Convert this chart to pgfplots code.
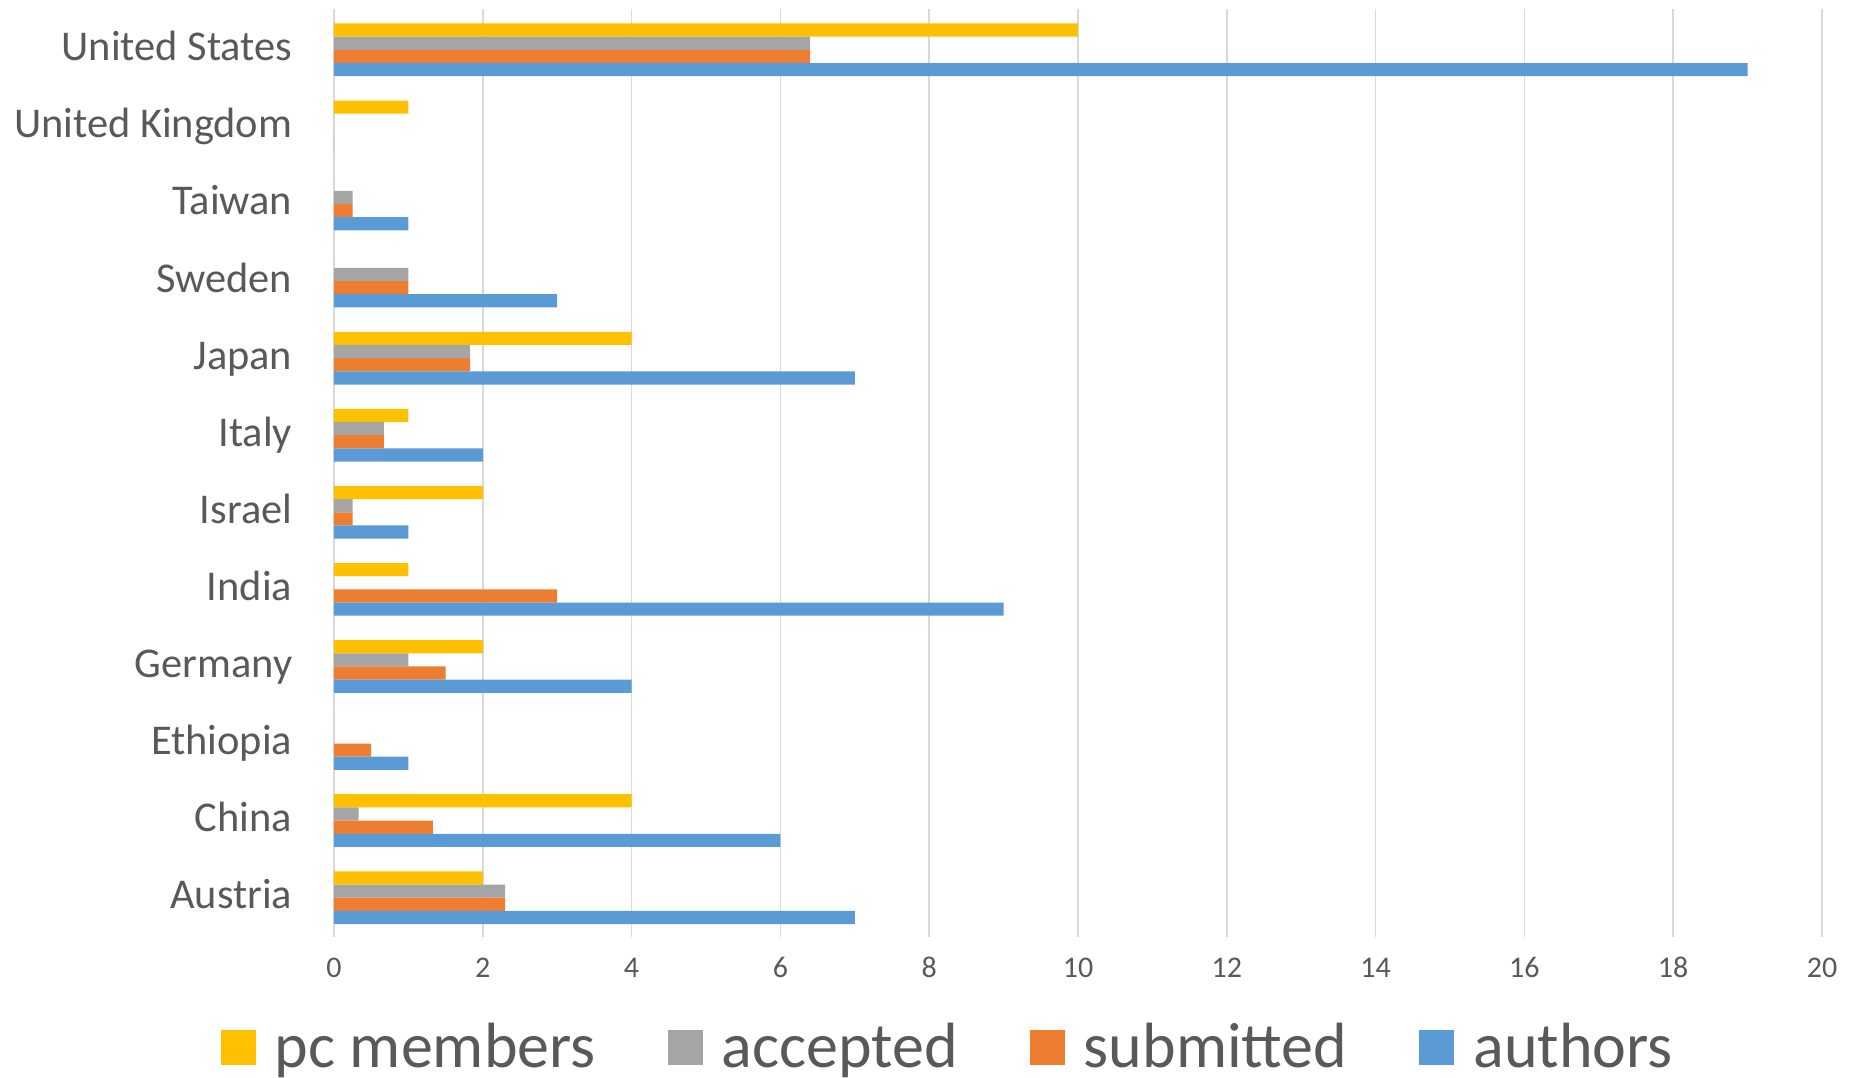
\documentclass[border=0pt]{standalone}
\usepackage{fontspec}
\setmainfont{Carlito}
\usepackage{pgfplots}
\usepackage{pgfplotstable}
\pgfplotsset{compat=1.18}

\definecolor{pcc}{HTML}{FFC000}
\definecolor{accc}{HTML}{A5A5A5}
\definecolor{subc}{HTML}{ED7D31}
\definecolor{autc}{HTML}{5B9BD5}
\definecolor{gridc}{HTML}{D9D9D9}
\definecolor{txtc}{HTML}{595959}

% y: 0 = Austria ... 11 = United States
\pgfplotstableread{
y  pc accepted submitted authors
0  2  2.3      2.3       7
1  4  0.33     1.33      6
2  0  0        0.5       1
3  2  1        1.5       4
4  1  0        3         9
5  2  0.25     0.25      1
6  1  0.67     0.67      2
7  4  1.83     1.83      7
8  0  1        1         3
9  0  0.25     0.25      1
10 1  0        0         0
11 10 6.4      6.4       19
}\data

\begin{document}
\begin{tikzpicture}
\begin{axis}[
  name=ax,
  xbar,
  scale only axis,
  width=372pt, height=232pt,
  xmin=0, xmax=20,
  ymin=-0.51, ymax=11.53,
  xtick={0,2,...,20},
  ytick={0,...,11},
  yticklabels={Austria,China,Ethiopia,Germany,India,Israel,Italy,Japan,Sweden,Taiwan,United Kingdom,United States},
  xmajorgrids,
  grid style={draw=gridc, line width=0.36pt},
  axis lines*=left,
  x axis line style={draw=none},
  y axis line style={draw=gridc, line width=0.5pt},
  major tick length=0pt,
  tick style={draw=none},
  bar width=0.171,
  /pgf/number format/assume math mode=true,
  xticklabel style={font=\fontsize{7.5}{9}\selectfont, text=txtc, anchor=base, inner sep=0pt, yshift=-10.25pt},
  yticklabel style={font=\fontsize{10.6}{12}\selectfont, text=txtc, anchor=base east, inner sep=0pt, xshift=-10.25pt, yshift=-2.75pt},
  legend columns=-1,
  legend style={at={(-0.0766,-0.1196)}, anchor=west, draw=none, fill=none, inner sep=0pt,
    font=\fontsize{16}{19}\selectfont, text=txtc,
    nodes={inner sep=0pt, anchor=base west},
    /tikz/every odd column/.append style={column sep=4.75pt},
    /tikz/every even column/.append style={column sep=18pt}},
  legend image code/.code={\fill[#1, draw=none] (0pt,0.625pt) rectangle (8.75pt,9.375pt);},
]
\addplot[fill=pcc, draw=none, bar shift=0.2565] table[x=pc, y=y]{\data};
\addplot[fill=accc, draw=none, bar shift=0.0855] table[x=accepted, y=y]{\data};
\addplot[fill=subc, draw=none, bar shift=-0.0855] table[x=submitted, y=y]{\data};
\addplot[fill=autc, draw=none, bar shift=-0.2565] table[x=authors, y=y]{\data};
\legend{pc members, accepted, submitted, authors}
\end{axis}
\pgfresetboundingbox
\path ([shift={(-83.5pt,-35.25pt)}]ax.south west) rectangle ([shift={(379.5pt,234.25pt)}]ax.south west);
\end{tikzpicture}
\end{document}
